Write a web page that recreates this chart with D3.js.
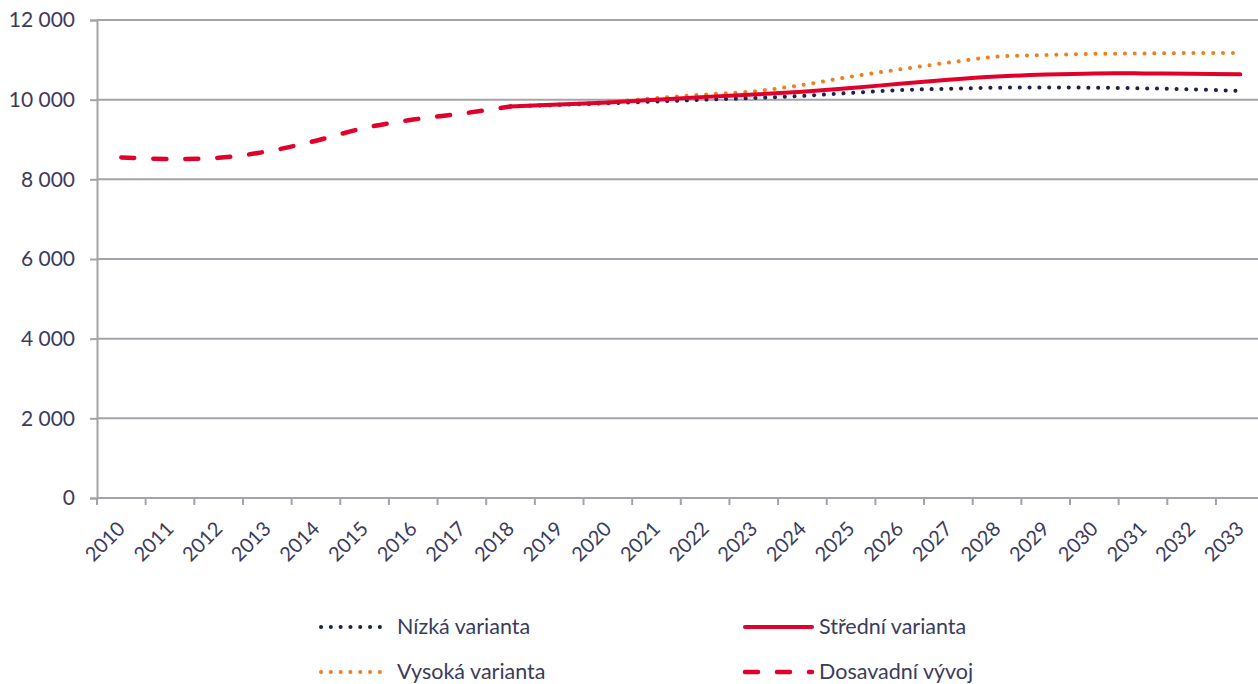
<!DOCTYPE html>
<html>
<head>
<meta charset="utf-8">
<script src="https://cdn.jsdelivr.net/npm/d3@7"></script>
<style>
  body { margin: 0; background: #fff; }
  svg text { font-family: Lato, "Open Sans", sans-serif; font-weight: 400; fill: #3b3b5b; }
</style>
</head>
<body>
<div id="vis"></div>
<script>
// data
const years = d3.range(2010, 2034).map(String);
const historyYears = ["2010","2011","2012","2013","2014","2015","2016","2017","2018"];
const historyValues = [8550, 8510, 8540, 8700, 8970, 9290, 9500, 9650, 9830];
const projYears = ["2018","2019","2020","2021","2022","2023","2024","2025","2026","2027","2028","2029","2030","2031","2032","2033"];
const lowValues  = [9830, 9870, 9910, 9955, 10000, 10040, 10095, 10170, 10240, 10275, 10300, 10305, 10300, 10285, 10260, 10220];
const midValues  = [9830, 9880, 9930, 10000, 10070, 10130, 10200, 10290, 10400, 10500, 10580, 10630, 10660, 10660, 10650, 10635];
const highValues = [9830, 9880, 9940, 10040, 10130, 10210, 10370, 10580, 10760, 10930, 11080, 11120, 11150, 11160, 11170, 11170];
const yTicks = [0, 2000, 4000, 6000, 8000, 10000, 12000];

const series = [
  {name: "Nízká varianta",   years: projYears,    values: lowValues,     color: "#1f2248", dash: "0.1,9.7", width: 4, cap: "round"},
  {name: "Vysoká varianta",  years: projYears,    values: highValues,    color: "#f07f22", dash: "0.1,9.7", width: 4, cap: "round"},
  {name: "Střední varianta", years: projYears,    values: midValues,     color: "#e2002b", dash: null,      width: 4, cap: "round"},
  {name: "Dosavadní vývoj",  years: historyYears, values: historyValues, color: "#e2002b", dash: "13,19",   width: 4.5, cap: "round"}
];

const dimensions = {
  width: 1258,
  height: 684,
  margin: {top: 20, left: 97},
  band: 48.65,
  bottom: 498
};

const svg = d3.select("#vis")
  .append("svg")
  .attr("width", dimensions.width)
  .attr("height", dimensions.height);

const xScale = d3.scaleBand()
  .domain(years)
  .range([dimensions.margin.left, dimensions.margin.left + dimensions.band * years.length])
  .padding(0);

const yScale = d3.scaleLinear()
  .domain([0, 12000])
  .range([dimensions.bottom, dimensions.margin.top]);

const fmt = d3.formatLocale({decimal: ",", thousands: "\u00a0", grouping: [3], currency: ["", ""]}).format(",d");

// gridlines
svg.append("g")
  .selectAll("line")
  .data(yTicks.filter(d => d > 0))
  .join("line")
  .attr("x1", dimensions.margin.left)
  .attr("x2", dimensions.width)
  .attr("y1", d => yScale(d))
  .attr("y2", d => yScale(d))
  .attr("stroke", "#a3a3aa")
  .attr("stroke-width", 2);

// y axis
const yAxis = svg.append("g")
  .attr("transform", `translate(${dimensions.margin.left},0)`)
  .call(d3.axisLeft(yScale).tickValues(yTicks).tickSize(7).tickPadding(15).tickFormat(fmt));
yAxis.select(".domain").attr("stroke", "#a3a3aa").attr("stroke-width", 2);
yAxis.selectAll(".tick line").attr("stroke", "#a3a3aa").attr("stroke-width", 2);
yAxis.selectAll(".tick text").style("font-size", "21px").attr("fill", "#3b3b5b");

// x axis: ticks at band edges, labels rotated at band centres
const xAxis = svg.append("g").attr("transform", `translate(0,${dimensions.bottom})`);
xAxis.append("line")
  .attr("x1", dimensions.margin.left).attr("x2", dimensions.width)
  .attr("stroke", "#a3a3aa").attr("stroke-width", 2);
xAxis.selectAll(".edge")
  .data(years)
  .join("line")
  .attr("class", "edge")
  .attr("x1", d => xScale(d)).attr("x2", d => xScale(d))
  .attr("y1", 0).attr("y2", 7)
  .attr("stroke", "#a3a3aa").attr("stroke-width", 2);
xAxis.selectAll(".lab")
  .data(years)
  .join("text")
  .attr("class", "lab")
  .attr("text-anchor", "end")
  .style("font-size", "20px")
  .attr("transform", d => `translate(${xScale(d) + xScale.bandwidth() / 2 + 5},${32}) rotate(-45)`)
  .text(d => d);

// lines
const line = d3.line()
  .x(d => xScale(d.year) + xScale.bandwidth() / 2)
  .y(d => yScale(d.value))
  .curve(d3.curveCatmullRom.alpha(0.5));

svg.append("g")
  .selectAll("path")
  .data(series)
  .join("path")
  .attr("d", s => line(s.years.map((y, i) => ({year: y, value: s.values[i]}))))
  .attr("fill", "none")
  .attr("stroke", s => s.color)
  .attr("stroke-width", s => s.width)
  .attr("stroke-linecap", s => s.cap)
  .attr("stroke-dasharray", s => s.dash);

// legend
const legendPos = [
  {x: 321, y: 627},
  {x: 321, y: 672},
  {x: 745, y: 627},
  {x: 745, y: 672}
];
const legend = svg.append("g")
  .selectAll("g")
  .data(series)
  .join("g")
  .attr("transform", (d, i) => `translate(${legendPos[i].x},${legendPos[i].y})`);

legend.append("line")
  .attr("x1", 0)
  .attr("x2", (d, i) => i < 2 ? 60 : 67)
  .attr("stroke", d => d.color)
  .attr("stroke-width", d => d.width)
  .attr("stroke-linecap", d => d.cap)
  .attr("stroke-dasharray", d => d.dash);

legend.append("text")
  .attr("x", (d, i) => i < 2 ? 76 : 74)
  .attr("y", 7)
  .style("font-size", "21.5px")
  .text(d => d.name);
</script>
</body>
</html>
